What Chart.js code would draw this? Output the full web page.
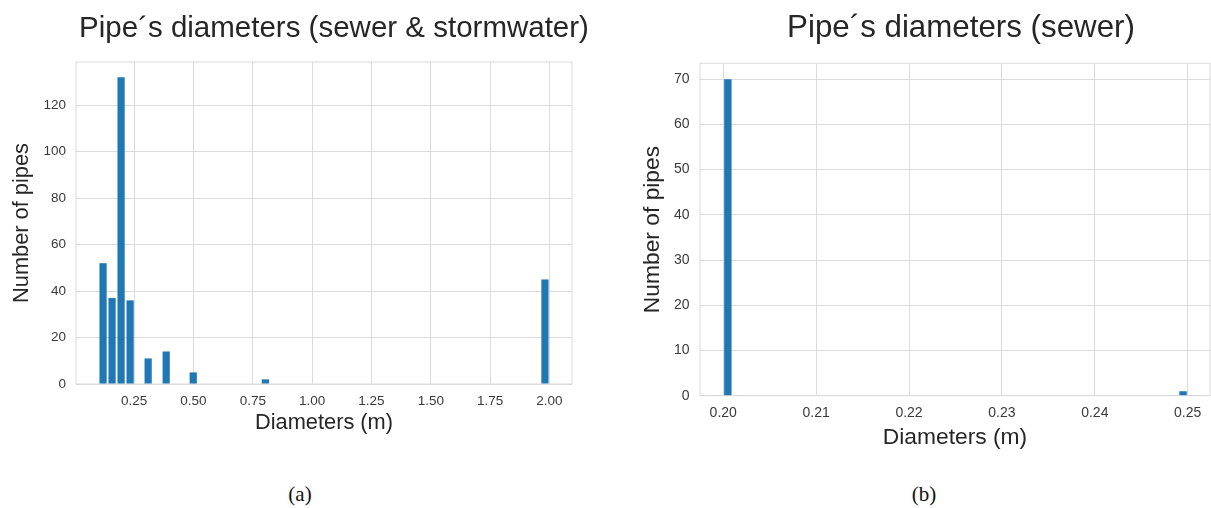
<!DOCTYPE html>
<html>
<head>
<meta charset="utf-8">
<title>Pipe diameters</title>
<script src="https://cdn.jsdelivr.net/npm/chart.js@4.4.1/dist/chart.umd.min.js"></script>
<style>
  html, body { margin: 0; padding: 0; background: #fff; }
  body { width: 1211px; height: 508px; position: relative; overflow: hidden; }
  .panel { position: absolute; }
  .figtitle {
    position: absolute;
    font-family: "Liberation Sans", Arial, sans-serif;
    color: #262626;
    line-height: 1;
    white-space: nowrap;
    transform: translateX(-50%);
  }
  .caption {
    position: absolute;
    font-family: "Liberation Serif", "DejaVu Serif", serif;
    font-size: 21px;
    color: #111;
    transform: translate(-50%, -50%);
  }
</style>
</head>
<body>
<div class="panel" style="left:0;top:0;width:600px;height:445px">
  <canvas id="plotAll" width="600" height="445"></canvas>
</div>
<div class="panel" style="left:630px;top:0;width:581px;height:460px">
  <canvas id="plotSewer" width="581" height="460"></canvas>
</div>
<!-- figure titles are suptitles in the original, centred on each figure rather than on the axes -->
<div class="figtitle" style="left:334px;top:12px;font-size:29.5px">Pipe´s diameters (sewer &amp; stormwater)</div>
<div class="figtitle" style="left:961px;top:11px;font-size:31.3px">Pipe´s diameters (sewer)</div>
<div class="caption" style="left:300px;top:494px">(a)</div>
<div class="caption" style="left:924px;top:494px">(b)</div>

<script>
// (a) sewer & stormwater: histogram, 50 bins of 0.038 m from 0.10 m
const allBinStart = 0.1;
const allBinWidth = 0.038;
const allCounts = [
  52, 37, 132, 36, 0, 11, 0, 14, 0, 0,
  5, 0, 0, 0, 0, 0, 0, 0, 2, 0,
  0, 0, 0, 0, 0, 0, 0, 0, 0, 0,
  0, 0, 0, 0, 0, 0, 0, 0, 0, 0,
  0, 0, 0, 0, 0, 0, 0, 0, 0, 45
];
const allXTicks = [0.25, 0.5, 0.75, 1.0, 1.25, 1.5, 1.75, 2.0];
const allYTicks = [0, 20, 40, 60, 80, 100, 120];

// (b) sewer only: histogram, 50 bins of 0.001 m from 0.20 m
const sewerBinStart = 0.2;
const sewerBinWidth = 0.001;
const sewerCounts = [
  70, 0, 0, 0, 0, 0, 0, 0, 0, 0,
  0, 0, 0, 0, 0, 0, 0, 0, 0, 0,
  0, 0, 0, 0, 0, 0, 0, 0, 0, 0,
  0, 0, 0, 0, 0, 0, 0, 0, 0, 0,
  0, 0, 0, 0, 0, 0, 0, 0, 0, 1
];
const sewerXTicks = [0.20, 0.21, 0.22, 0.23, 0.24, 0.25];
const sewerYTicks = [0, 10, 20, 30, 40, 50, 60, 70];

const barColor = "#1f77b4";
const gridColor = "#dadada";
const textColor = "#3a3a3a";

Chart.defaults.font.family = '"Liberation Sans", Arial, sans-serif';
Chart.defaults.color = textColor;

// light grey box round the plot area (seaborn whitegrid spines)
const framePlugin = {
  id: "frame",
  beforeDatasetsDraw(chart) {
    const { ctx, chartArea } = chart;
    ctx.save();
    ctx.strokeStyle = gridColor;
    ctx.lineWidth = 1;
    ctx.strokeRect(chartArea.left, chartArea.top,
      chartArea.right - chartArea.left, chartArea.bottom - chartArea.top);
    ctx.restore();
  }
};

function binPoints(start, width, counts) {
  return counts.map((c, i) => ({ x: start + width * (i + 0.5), y: c }));
}

function drawHistogram(id, cfg) {
  const ctx = document.getElementById(id).getContext("2d");
  return new Chart(ctx, {
    type: "bar",
    data: {
      datasets: [{
        label: "pipes",
        data: cfg.points,
        backgroundColor: barColor,
        borderWidth: 0,
        categoryPercentage: 1,
        barPercentage: 0.8,
      }],
    },
    options: {
      responsive: false,
      animation: false,
      layout: { padding: cfg.padding },
      plugins: {
        legend: { display: false },
        tooltip: { enabled: false },
      },
      scales: {
        x: {
          type: "linear",
          offset: false,
          min: cfg.xMin,
          max: cfg.xMax,
          grid: { color: gridColor, drawTicks: false, offset: false },
          border: { display: false },
          afterBuildTicks: (s) => { s.ticks = cfg.xTicks.map((v) => ({ value: v })); },
          afterFit: (s) => { s.height = cfg.xHeight; },
          ticks: {
            padding: cfg.xTickPad,
            font: { size: cfg.tickSize },
            maxRotation: 0,
            callback: (v) => Number(v).toFixed(2),
          },
          title: {
            display: true,
            text: "Diameters (m)",
            color: "#262626",
            font: { size: cfg.labelSize },
            padding: { top: 0, bottom: cfg.xTitlePad },
          },
        },
        y: {
          min: 0,
          max: cfg.yMax,
          grid: { color: gridColor, drawTicks: false },
          border: { display: false },
          afterBuildTicks: (s) => { s.ticks = cfg.yTicks.map((v) => ({ value: v })); },
          afterFit: (s) => { s.width = cfg.yWidth; },
          ticks: { padding: cfg.yTickPad, font: { size: cfg.tickSize } },
          title: {
            display: true,
            text: "Number of pipes",
            color: "#262626",
            font: { size: cfg.labelSize },
            padding: { top: cfg.yTitlePad, bottom: 0 },
          },
        },
      },
    },
    plugins: [framePlugin],
  });
}

drawHistogram("plotAll", {
  points: binPoints(allBinStart, allBinWidth, allCounts),
  xTicks: allXTicks,
  yTicks: allYTicks,
  xMin: 0.005,
  xMax: 2.095,
  yMax: 138.6,
  padding: { left: 0, right: 28, top: 62, bottom: 0 },
  labelSize: 21.8,
  tickSize: 13.5,
  xHeight: 61,
  yWidth: 76,
  xTickPad: 9.5,
  yTickPad: 10,
  xTitlePad: 9,
  yTitlePad: 9,
});

drawHistogram("plotSewer", {
  points: binPoints(sewerBinStart, sewerBinWidth, sewerCounts),
  xTicks: sewerXTicks,
  yTicks: sewerYTicks,
  xMin: 0.1975,
  xMax: 0.2524,
  yMax: 73.5,
  padding: { left: 0, right: 1, top: 63.3, bottom: 0 },
  labelSize: 22.8,
  tickSize: 14,
  xHeight: 64.3,
  yWidth: 70,
  xTickPad: 9,
  yTickPad: 10.5,
  xTitlePad: 8.3,
  yTitlePad: 9.3,
});
</script>
</body>
</html>
